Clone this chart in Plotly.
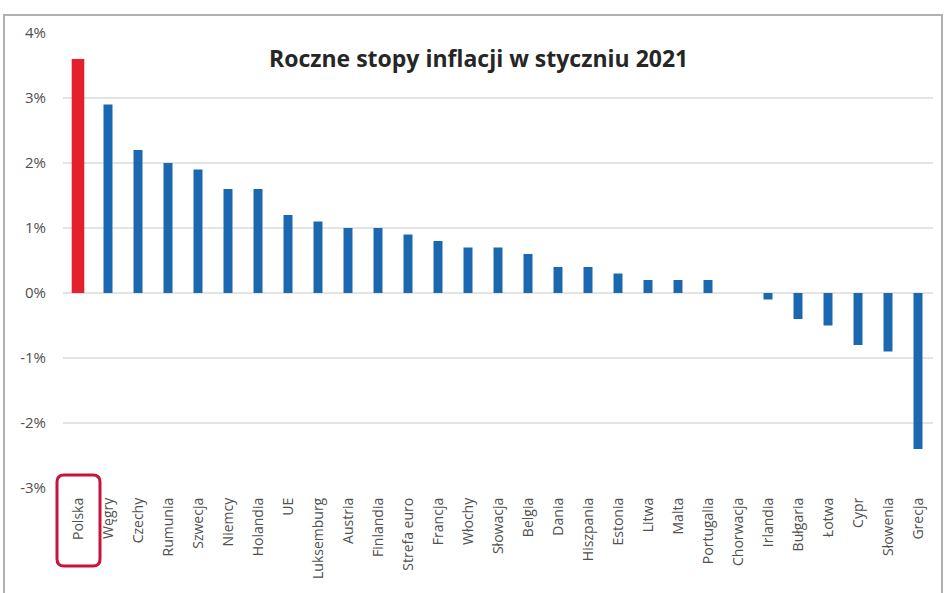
import plotly.graph_objects as go

countries = ["Polska", "Węgry", "Czechy", "Rumunia", "Szwecja", "Niemcy", "Holandia", "UE",
             "Luksemburg", "Austria", "Finlandia", "Strefa euro", "Francja", "Włochy", "Słowacja",
             "Belgia", "Dania", "Hiszpania", "Estonia", "Litwa", "Malta", "Portugalia", "Chorwacja",
             "Irlandia", "Bułgaria", "Łotwa", "Cypr", "Słowenia", "Grecja"]
inflation = [3.6, 2.9, 2.2, 2.0, 1.9, 1.6, 1.6, 1.2,
             1.1, 1.0, 1.0, 0.9, 0.8, 0.7, 0.7,
             0.6, 0.4, 0.4, 0.3, 0.2, 0.2, 0.2, 0.0,
             -0.1, -0.4, -0.5, -0.8, -0.9, -2.4]
highlight = "Polska"
y_ticks = [-3, -2, -1, 0, 1, 2, 3, 4]
y_tick_labels = ["-3%", "-2%", "-1%", "0%", "1%", "2%", "3%", "4%"]
title = "Roczne stopy inflacji w styczniu 2021"

BLUE = "#1c68b0"
RED = "#e3202b"

colors = [RED if c == highlight else BLUE for c in countries]
widths = [0.42 if c == highlight else 0.3 for c in countries]

W, H = 948, 593
L, R, T, B = 63, 15, 33, 105
pw, ph = W - L - R, H - T - B

def px(xp):
    return (xp - L) / pw

def py(yp):
    return (H - B - yp) / ph

def rounded_rect(x0, y0, x1, y1, r):
    # pixel coords -> paper path with rounded corners
    rx, ry = r / pw, r / ph
    X0, X1 = px(x0), px(x1)
    Y0, Y1 = py(y0), py(y1)  # Y0 top (larger), Y1 bottom
    return (f"M {X0+rx},{Y0} L {X1-rx},{Y0} Q {X1},{Y0} {X1},{Y0-ry} "
            f"L {X1},{Y1+ry} Q {X1},{Y1} {X1-rx},{Y1} "
            f"L {X0+rx},{Y1} Q {X0},{Y1} {X0},{Y1+ry} "
            f"L {X0},{Y0-ry} Q {X0},{Y0} {X0+rx},{Y0} Z")

fig = go.Figure(go.Bar(
    x=countries, y=inflation,
    marker=dict(color=colors, line=dict(width=0)),
    width=widths,
))

FONT = "Open Sans"
fig.update_layout(
    width=W, height=H,
    margin=dict(l=L, r=R, t=T, b=B),
    paper_bgcolor="white", plot_bgcolor="white",
    showlegend=False,
    bargap=0.7,
    font=dict(family=FONT, color="#595959"),
    xaxis=dict(
        tickangle=-90, tickfont=dict(size=14, color="#505050", family=FONT),
        showgrid=False, showline=False, zeroline=False, ticks="",
        ticklabelstandoff=6,
        range=[-0.5, len(countries) - 0.5],
    ),
    yaxis=dict(
        range=[-3, 4], tickvals=y_ticks, ticktext=y_tick_labels,
        tickfont=dict(size=15, color="#505050", family=FONT),
        showgrid=True, gridcolor="#e4e4e4", gridwidth=1.5,
        zeroline=True, zerolinecolor="#e4e4e4", zerolinewidth=1.5,
        showline=False, ticks="", ticklabelstandoff=16,
    ),
    annotations=[dict(
        text=f"<b>{title}</b>", xref="paper", yref="paper",
        x=px(478), y=py(58), xanchor="center", yanchor="middle",
        showarrow=False, font=dict(size=23, color="#262626", family=FONT),
    )],
    shapes=[
        dict(type="rect", xref="paper", yref="paper",
             x0=px(4), x1=px(942), y0=py(15), y1=py(640),
             line=dict(color="#b0b0b0", width=2), layer="below"),
        dict(type="path", xref="paper", yref="paper",
             path=rounded_rect(57, 475, 100, 566, 7),
             line=dict(color="#c8143c", width=3)),
    ],
)

fig.write_html("out.html")
